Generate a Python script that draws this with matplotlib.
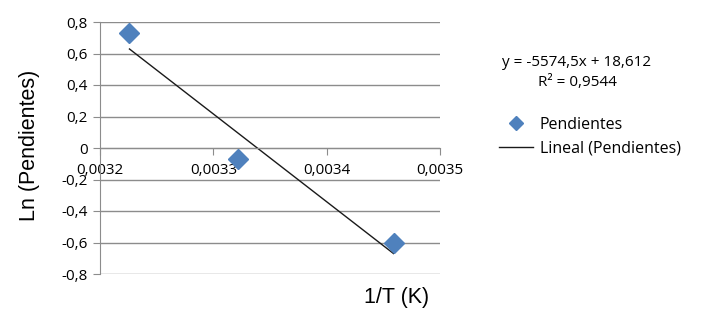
import matplotlib
matplotlib.use("Agg")
import matplotlib.pyplot as plt
import numpy as np

inv_T = [0.003226, 0.003322, 0.003459]
ln_pend = [0.73, -0.072, -0.605]
slope = -5574.5
intercept = 18.612
r2_text = "R² = 0,9544"
eq_text = "y = -5574,5x + 18,612"
x_ticks = [0.0032, 0.0033, 0.0034, 0.0035]
x_tick_labels = ["0,0032", "0,0033", "0,0034", "0,0035"]
y_ticks = [-0.8, -0.6, -0.4, -0.2, 0, 0.2, 0.4, 0.6, 0.8]
y_tick_labels = ["-0,8", "-0,6", "-0,4", "-0,2", "0", "0,2", "0,4", "0,6", "0,8"]

fig = plt.figure(figsize=(7.04, 3.29), dpi=100)
ax = fig.add_axes([100/704, 1-274/329, 340/704, 252/329])

grid_c = "#8c8c8c"
ax.set_xlim(0.0032, 0.0035)
ax.set_ylim(-0.8, 0.8)
ax.set_yticks(y_ticks)
ax.set_yticklabels(y_tick_labels)
ax.set_xticks(x_ticks)
ax.set_xticklabels(x_tick_labels)
ax.yaxis.grid(True, color=grid_c, linewidth=1)
ax.set_axisbelow(True)
for s in ["top", "right"]:
    ax.spines[s].set_visible(False)
ax.spines["bottom"].set_position(("data", 0))
ax.spines["bottom"].set_color(grid_c)
ax.spines["left"].set_color(grid_c)
ax.tick_params(axis="y", length=5, color=grid_c, labelsize=11, pad=4)
ax.tick_params(axis="x", length=5, color=grid_c, labelsize=11, pad=5.5, direction="out")
for lab in ax.get_xticklabels() + ax.get_yticklabels():
    lab.set_fontfamily("Open Sans")

xs = np.array([min(inv_T), max(inv_T)])
line, = ax.plot(xs, slope * xs + intercept, color="#1a1a1a", linewidth=1, zorder=2)
pts, = ax.plot(inv_T, ln_pend, linestyle="none", marker="D", markersize=10,
               color="#4F81BD", markeredgecolor="#4F81BD", zorder=3)

fig.text(30/704, 1-145/329, "Ln (Pendientes)", rotation=90, ha="center", va="center",
         fontsize=15.5, family="Liberation Sans")
fig.text(397/704, 1-298/329, "1/T (K)", ha="center", va="center",
         fontsize=15.5, family="Liberation Sans")

fig.text(577/704, 1-62/329, eq_text, ha="center", va="center", fontsize=11, family="Open Sans")
fig.text(577/704, 1-82/329, r2_text, ha="center", va="center", fontsize=11, family="Open Sans")

leg = fig.legend([pts, line], ["Pendientes", "Lineal (Pendientes)"],
                 loc="upper left", bbox_to_anchor=(499/704, 1-117/329),
                 frameon=False, prop={"family": "Open Sans", "size": 11.5},
                 handlelength=2.15, handletextpad=0.4, labelspacing=0.45,
                 borderaxespad=0, borderpad=0)
leg.legend_handles[0].set_markersize(7.5)

fig.savefig("out.png", dpi=100)
